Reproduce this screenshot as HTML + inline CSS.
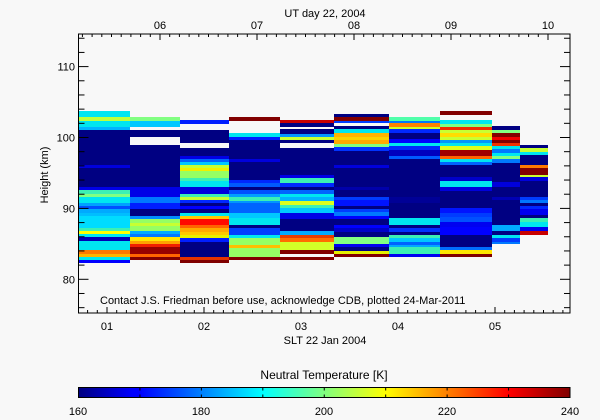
<!DOCTYPE html>
<html><head><meta charset="utf-8"><style>
html,body{margin:0;padding:0;background:#f8f8f8;}
svg{display:block;font-family:"Liberation Sans",sans-serif;}
</style></head><body>
<svg id="s" width="600" height="420" xmlns="http://www.w3.org/2000/svg">
<defs><linearGradient id="jet" x1="0" x2="1" y1="0" y2="0">
<stop offset="0" stop-color="#000080"/><stop offset="0.11" stop-color="#0000ff"/>
<stop offset="0.125" stop-color="#0000ff"/><stop offset="0.375" stop-color="#00ffff"/>
<stop offset="0.625" stop-color="#ffff00"/><stop offset="0.875" stop-color="#ff0000"/>
<stop offset="1" stop-color="#800000"/></linearGradient></defs>
<rect width="600" height="420" fill="#f8f8f8"/>
<g id="data"></g>
<g id="ax" stroke="#000" stroke-width="1" fill="none"></g>
<g fill="#000" font-size="11">
<text x="325" y="17" text-anchor="middle">UT day 22, 2004</text>
<text x="325" y="344" text-anchor="middle">SLT 22 Jan 2004</text>
<text x="100" y="304">Contact J.S. Friedman before use, acknowledge CDB, plotted 24-Mar-2011</text>
<text transform="translate(48,175) rotate(-90)" text-anchor="middle">Height (km)</text>
<text x="324" y="379" text-anchor="middle" font-size="12">Neutral Temperature [K]</text>
<text x="78" y="415" text-anchor="middle">160</text>
<text x="201" y="415" text-anchor="middle">180</text>
<text x="324" y="415" text-anchor="middle">200</text>
<text x="447" y="415" text-anchor="middle">220</text>
<text x="570" y="415" text-anchor="middle">240</text>
</g>
<rect x="78.5" y="387.5" width="491.5" height="10" fill="url(#jet)" stroke="#000"/>
</svg>
<script>
const cols=[
[79,130,[[111,117,"00e6f0"],[117,121,"beff3c"],[121,127,"00e6f0"],[127,130,"00b4ff"],[130,165,"000082"],[165,168,"0000dc"],[168,187,"000082"],[187,190,"0000e6"],[190,194,"3cf0b4"],[194,197,"82ff82"],[197,203,"00e6f0"],[203,206,"00a0ff"],[206,209,"0050ff"],[209,213,"00aaff"],[213,216,"00beff"],[216,228,"00dcff"],[228,231,"3cf0b4"],[231,234,"ffff00"],[234,237,"00e6f0"],[237,241,"0000b4"],[241,250,"00e6f0"],[250,254,"ff7800"],[254,257,"ffb400"],[257,260,"00e6f0"],[260,263,"0000ff"]]],
[130,180,[[117,121,"82ff82"],[121,127,"00c8ff"],[130,137,"000082"],[145,187,"000082"],[187,197,"0000e6"],[197,203,"0078ff"],[203,209,"001eff"],[209,216,"000082"],[216,219,"008cff"],[219,223,"96ff64"],[223,226,"c8ff32"],[226,231,"96ff64"],[231,234,"00aaff"],[234,237,"0078ff"],[237,241,"ffe600"],[241,244,"ffa000"],[244,247,"f01e00"],[247,254,"960000"],[254,257,"ff6400"],[257,260,"820000"]]],
[180,229,[[120,124,"001eff"],[130,143,"000082"],[148,156,"000082"],[156,159,"0000e6"],[159,162,"0064ff"],[162,165,"00c8ff"],[165,168,"c8ff32"],[168,171,"f0f000"],[171,178,"96ff64"],[178,181,"3cf0b4"],[181,187,"00e6f0"],[187,194,"0000dc"],[194,197,"3cf0b4"],[197,200,"c8ff32"],[200,203,"0028ff"],[203,206,"000082"],[206,209,"0000ff"],[209,213,"000082"],[213,216,"00e6f0"],[216,219,"ffc800"],[219,225,"ff0a00"],[225,228,"ff6400"],[228,232,"ffaa00"],[232,235,"ffc800"],[235,238,"e6f000"],[238,242,"001eff"],[242,257,"000082"],[257,260,"e63200"],[260,263,"800000"]]],
[229,280,[[117,121,"820000"],[133,137,"00e6f0"],[137,140,"001eff"],[140,159,"000082"],[159,162,"0000dc"],[162,180,"000082"],[180,183,"0028ff"],[183,187,"005aff"],[187,190,"000082"],[190,194,"0050ff"],[194,197,"00a0ff"],[197,201,"3cf0b4"],[201,203,"0096ff"],[203,213,"0064ff"],[213,218,"00c8ff"],[218,225,"00e6f0"],[225,228,"000082"],[228,235,"003cff"],[235,238,"00e6f0"],[238,245,"96ff64"],[245,248,"ffbe00"],[248,257,"96ff64"],[257,260,"820000"]]],
[280,334,[[120,123,"c80000"],[123,127,"000082"],[129,134,"000082"],[134,137,"0096ff"],[137,140,"c8ff32"],[140,143,"000082"],[148,175,"000082"],[175,178,"0000e6"],[178,183,"3cf0b4"],[183,187,"0028ff"],[187,190,"000082"],[190,194,"0064ff"],[194,197,"00e6f0"],[197,201,"00b4ff"],[201,205,"dcff1e"],[205,208,"3cf0b4"],[208,213,"00c8ff"],[213,219,"0000e6"],[219,231,"000082"],[231,235,"00aaff"],[235,238,"e63c00"],[238,242,"ff6e00"],[242,250,"d2ff28"],[250,254,"820000"],[257,260,"820000"]]],
[334,389,[[114,117,"000082"],[117,121,"820000"],[121,123,"003cff"],[126,129,"000082"],[129,133,"00e6f0"],[133,137,"ffb400"],[137,140,"fad200"],[140,144,"ffaa00"],[144,147,"82ff82"],[147,151,"0032ff"],[151,165,"000082"],[165,168,"0000dc"],[168,187,"000082"],[187,190,"0000aa"],[190,197,"000082"],[197,200,"003cff"],[200,206,"0014ff"],[206,209,"000082"],[209,212,"003cff"],[212,216,"0078ff"],[216,219,"0000ff"],[219,225,"000082"],[225,228,"0000ff"],[228,232,"0000c8"],[232,237,"000082"],[237,244,"82ff82"],[244,247,"0000f0"],[247,251,"000082"],[251,254,"e6f000"],[254,257,"820000"]]],
[389,440,[[117,121,"50ffaa"],[121,123,"0078ff"],[123,127,"ff8200"],[127,129,"d2ff28"],[129,133,"0028ff"],[133,139,"000082"],[139,143,"0000ff"],[143,146,"00e6f0"],[146,150,"0028ff"],[150,156,"0000be"],[156,159,"005aff"],[159,197,"000082"],[197,203,"000096"],[203,218,"000082"],[218,225,"00e6f0"],[225,228,"000082"],[228,232,"0032ff"],[232,235,"000082"],[235,238,"3cf0b4"],[238,242,"00c8ff"],[242,245,"0064ff"],[245,247,"00aaff"],[247,254,"3cf0b4"],[254,257,"0000f0"]]],
[440,492,[[111,115,"820000"],[120,124,"00e6f0"],[124,127,"82ff82"],[127,130,"f02800"],[130,133,"c8ff32"],[133,137,"ffdc00"],[137,140,"c8ff32"],[140,143,"0096ff"],[143,146,"00e6f0"],[146,150,"dcff1e"],[150,156,"a00000"],[156,159,"ff6400"],[159,162,"00e6f0"],[162,165,"0064ff"],[165,177,"000082"],[177,181,"0000c8"],[181,187,"00e6f0"],[187,191,"0000dc"],[191,208,"000082"],[208,213,"0014ff"],[213,217,"003cff"],[217,222,"0050ff"],[222,227,"0000f0"],[227,235,"0000ff"],[235,247,"000082"],[247,250,"006eff"],[250,254,"ffe600"],[254,257,"820000"]]],
[492,520,[[126,130,"000082"],[130,133,"82ff82"],[133,137,"820000"],[137,140,"f00000"],[140,143,"820000"],[143,146,"f03200"],[146,149,"00e6f0"],[149,153,"0078ff"],[153,156,"00e6f0"],[156,159,"82ff82"],[159,163,"0078ff"],[163,182,"000082"],[182,187,"0000dc"],[187,197,"000082"],[197,200,"0000b4"],[200,225,"000082"],[225,231,"00aaff"],[231,235,"000082"],[235,238,"00e6f0"],[238,242,"003cff"],[242,244,"0078ff"]]],
[520,548,[[145,148,"000082"],[148,152,"c8ff32"],[152,155,"00e6f0"],[155,165,"000082"],[165,168,"ff7800"],[168,175,"820000"],[175,177,"c8ff32"],[177,181,"0000dc"],[181,197,"000082"],[197,200,"003cff"],[200,203,"0078ff"],[203,206,"000082"],[206,209,"0028ff"],[209,215,"0000f0"],[215,218,"000082"],[218,222,"3cf0b4"],[222,227,"00e6f0"],[227,231,"0000f0"],[231,235,"c80000"]]]
];
const NS="http://www.w3.org/2000/svg";
const d=document.getElementById("data"),ax=document.getElementById("ax"),s=document.getElementById("s");
function el(p,tag,a){const e=document.createElementNS(NS,tag);for(const k in a)e.setAttribute(k,a[k]);p.appendChild(e);return e;}
for(const [x0,x1,b] of cols)for(const [y0,y1,c] of b)el(d,"rect",{x:x0,y:y0,width:x1-x0,height:y1-y0,fill:"#"+c});
const L=78.5,R=570,T=34,B=313;
el(ax,"rect",{x:L,y:T,width:R-L,height:B-T});
function txt(x,y,t,anc){const e=el(s,"text",{x:x,y:y,"text-anchor":anc||"middle","font-size":"11",fill:"#000"});e.textContent=t;}
// bottom & top
for(let i=-3;i<=48;i++){const x=107+i*9.7;if(x<L+1||x>R-1)continue;const m=i%10==0;
 el(ax,"line",{x1:x,y1:B,x2:x,y2:B-(m?6:3)});}
for(let i=-8;i<=40;i++){const x=160+i*9.7;if(x<L+1||x>R-1)continue;const m=i%10==0;
 el(ax,"line",{x1:x,y1:T,x2:x,y2:T+(m?6:3)});}
["01","02","03","04","05"].forEach((t,i)=>txt(107+i*97,330,t));
["06","07","08","09","10"].forEach((t,i)=>txt(160+i*97,29,t));
// left/right
for(let h=76;h<=114;h+=2){const y=279.3-(h-80)*7.09;const m=h%10==0;
 el(ax,"line",{x1:L,y1:y,x2:L+(m?10:6),y2:y});el(ax,"line",{x1:R,y1:y,x2:R-(m?10:6),y2:y});
 if(m)txt(75,y+4,String(h),"end");}
// colorbar ticks
for(let v=170;v<240;v+=10){const x=78.5+(v-160)*491.5/80;
 el(s,"line",{x1:x,y1:387.5,x2:x,y2:390.5,stroke:"#000"});el(s,"line",{x1:x,y1:397.5,x2:x,y2:394.5,stroke:"#000"});}
</script>
</body></html>
